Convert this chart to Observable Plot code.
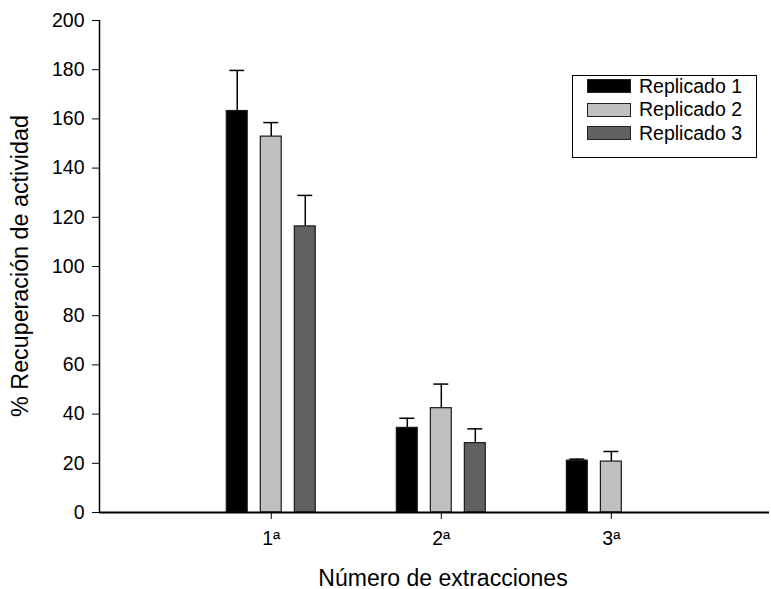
<!DOCTYPE html>
<html>
<head>
<meta charset="utf-8">
<script src="https://cdn.jsdelivr.net/npm/d3@7"></script>
<script src="https://cdn.jsdelivr.net/npm/@observablehq/plot@0.6"></script>
<style>
  html, body { margin: 0; padding: 0; background: #fff; }
  #wrap { position: relative; width: 771px; height: 589px; font-family: "Liberation Sans", Arial, sans-serif; color: #000; }
  #wrap svg { font-family: "Liberation Sans", Arial, sans-serif; }
  #wrap svg [aria-label="y-axis tick label"] text, #wrap svg [aria-label="x-axis tick label"] text { font-size: 19.5px; fill: #000; }
  #legend { position: absolute; left: 572px; top: 75px; width: 185px; height: 83px; border: 1px solid #000; box-sizing: border-box; background: #fff; }
  .row { position: absolute; left: 14px; height: 22px; display: flex; align-items: center; font-size: 19.5px; }
  .sw { width: 44px; height: 14px; box-sizing: border-box; border: 1px solid #222; margin-right: 8px; }
  .title { position: absolute; font-size: 23px; white-space: nowrap; }
  #ytitle { left: 20px; top: 266px; font-size: 23.3px; transform: translate(-50%, -50%) rotate(-90deg); }
  #xtitle { left: 443px; top: 578px; transform: translate(-50%, -50%); }
</style>
</head>
<body>
<div id="wrap"></div>
<script>
// Data
const categories = ["1ª", "2ª", "3ª"];
const series = ["Replicado 1", "Replicado 2", "Replicado 3"];
const colors = ["#000000", "#c0c0c0", "#616161"];
const rep1 = [163.2, 34.4, 21.1];
const rep2 = [152.8, 42.4, 20.7];
const rep3 = [116.3, 28.2, null];
const err1 = [16.5, 3.9, 0.6];
const err2 = [5.7, 9.8, 4.1];
const err3 = [12.6, 5.8, null];
const yTicks = [0, 20, 40, 60, 80, 100, 120, 140, 160, 180, 200];
const xTitle = "Número de extracciones";
const yTitle = "% Recuperación de actividad";

const values = [rep1, rep2, rep3];
const errors = [err1, err2, err3];
const rows = [];
categories.forEach((c, gi) => {
  series.forEach((s, si) => {
    const v = values[si][gi];
    if (v == null) return;
    rows.push({group: gi + 1, cat: c, rep: si, series: s, value: v, top: v + errors[si][gi]});
  });
});

const offset = 0.2, barW = 0.123, capW = 0.088;
const center = d => d.group + (d.rep - 1) * offset;

const chart = Plot.plot({
  width: 771,
  height: 589,
  marginLeft: 99,
  marginRight: 2,
  marginTop: 20,
  marginBottom: 77,
  x: {domain: [-0.01, 3.93], ticks: [1, 2, 3], tickFormat: d => categories[d - 1], tickSize: 7, tickPadding: 12, label: null},
  y: {domain: [0, 200], ticks: yTicks, tickSize: 7, tickPadding: 8, label: null},
  color: {domain: series, range: colors},
  marks: [
    Plot.rectY(rows, {x1: d => center(d) - barW / 2, x2: d => center(d) + barW / 2, y: "value", fill: "series", stroke: "#1a1a1a", strokeWidth: 1.2}),
    Plot.ruleX(rows, {x: center, y1: "value", y2: "top", stroke: "#000", strokeWidth: 1.5}),
    Plot.ruleY(rows, {y: "top", x1: d => center(d) - capW / 2, x2: d => center(d) + capW / 2, stroke: "#000", strokeWidth: 1.5}),
    Plot.ruleX([-0.01], {stroke: "#000", strokeWidth: 1.5}),
    Plot.ruleY([0], {stroke: "#000", strokeWidth: 2.2})
  ]
});
chart.setAttribute("style", "color:#000");
const wrap = document.getElementById("wrap");
wrap.appendChild(chart);

// Titles
const yt = document.createElement("div");
yt.id = "ytitle"; yt.className = "title"; yt.textContent = yTitle;
const xt = document.createElement("div");
xt.id = "xtitle"; xt.className = "title"; xt.textContent = xTitle;
wrap.appendChild(yt);
wrap.appendChild(xt);

// Legend
const legend = document.createElement("div");
legend.id = "legend";
series.forEach((s, i) => {
  const row = document.createElement("div");
  row.className = "row";
  row.style.top = (-1 + i * 23.5) + "px";
  const sw = document.createElement("div");
  sw.className = "sw";
  sw.style.background = colors[i];
  const t = document.createElement("span");
  t.textContent = s;
  row.appendChild(sw);
  row.appendChild(t);
  legend.appendChild(row);
});
wrap.appendChild(legend);
</script>
</body>
</html>
